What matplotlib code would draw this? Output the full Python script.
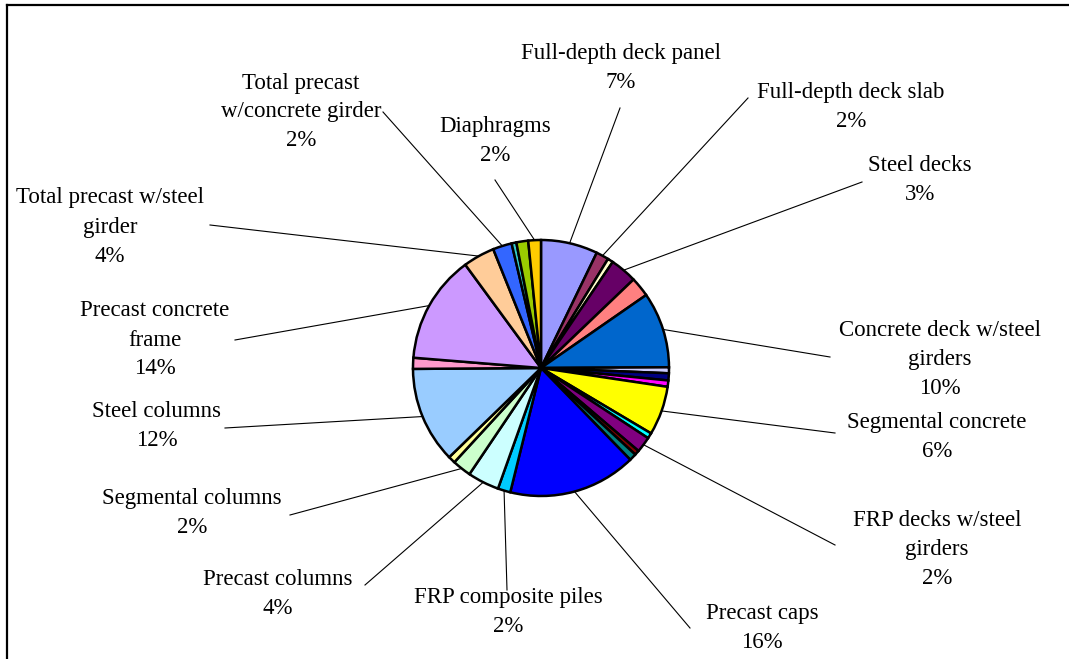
import matplotlib
matplotlib.use("Agg")
import matplotlib.pyplot as plt
import numpy as np

# ---- data ----
labels = [
    "Full-depth deck panel", "Full-depth deck slab", "", "Steel decks", "",
    "Concrete deck w/steel\ngirders", "", "", "", "Segmental concrete", "",
    "FRP decks w/steel\ngirders", "", "", "Precast caps", "FRP composite piles",
    "Precast columns", "Segmental columns", "", "Steel columns", "",
    "Precast concrete\nframe", "Total precast w/steel\ngirder",
    "Total precast\nw/concrete girder", "", "", "Diaphragms",
]
values = [
    7.2, 1.6, 0.7, 3.4, 2.5,
    9.6, 0.75, 0.9, 0.8, 6.2, 0.7,
    2.0, 0.6, 0.9, 16.2, 1.6,
    4.0, 2.4, 0.9, 12.2, 1.4,
    13.7, 4.0,
    2.4, 0.6, 1.5, 1.6,
]
colors = [
    "#9999FF", "#993366", "#FFFFCC", "#660066", "#FF8080",
    "#0066CC", "#CCCCFF", "#000080", "#FF00FF", "#FFFF00", "#00FFFF",
    "#800080", "#800000", "#008080", "#0000FF", "#00CCFF",
    "#CCFFFF", "#CCFFCC", "#FFFF99", "#99CCFF", "#FF99CC",
    "#CC99FF", "#FFCC99",
    "#3366FF", "#33CCCC", "#99CC00", "#FFCC00",
]

# ---- layout (image pixel coords, y from top) ----
W, H = 1069, 659
center_px = (541, 368)
radius_px = 128
# label block centre and leader start, per labelled slice
label_pos = {
    "Full-depth deck panel": ((621, 68), (620, 108)),
    "Full-depth deck slab": ((851, 107), (748, 98)),
    "Steel decks": ((920, 180), (862, 182)),
    "Concrete deck w/steel\ngirders": ((940, 359), (830, 357)),
    "Segmental concrete": ((937, 437), (835, 433)),
    "FRP decks w/steel\ngirders": ((937, 549), (835, 545)),
    "Precast caps": ((762, 628), (690, 628)),
    "FRP composite piles": ((508, 612), (507, 590)),
    "Precast columns": ((278, 594), (365, 585)),
    "Segmental columns": ((192, 513), (290, 515)),
    "Steel columns": ((157, 426), (225, 428)),
    "Precast concrete\nframe": ((155, 340), (235, 340)),
    "Total precast w/steel\ngirder": ((110, 227), (210, 225)),
    "Total precast\nw/concrete girder": ((301, 112), (383, 112)),
    "Diaphragms": ((495, 141), (495, 180)),
}

def Y(y):
    return H - y

fig = plt.figure(figsize=(W / 100, H / 100), dpi=100)
ax = fig.add_axes([0, 0, 1, 1])
ax.axis("off")

cx, cy = center_px[0], Y(center_px[1])
wedges, _ = ax.pie(values, colors=colors, startangle=90, counterclock=False,
                   center=(cx, cy), radius=radius_px,
                   wedgeprops=dict(edgecolor="black", linewidth=1.8))
ax.set_xlim(0, W)
ax.set_ylim(0, H)
ax.set_aspect("auto")

# frame (top and left edges visible)
ax.plot([7, W + 10], [Y(5), Y(5)], color="black", linewidth=1.6,
        solid_capstyle="projecting", clip_on=False)
ax.plot([7, 7], [Y(5), -10], color="black", linewidth=1.6,
        solid_capstyle="projecting", clip_on=False)

total = sum(values)
font = dict(family=["Liberation Serif", "DejaVu Serif"], fontsize=16.5)
for w, lab, v in zip(wedges, labels, values):
    if not lab:
        continue
    mid = np.deg2rad((w.theta1 + w.theta2) / 2)
    ex, ey = cx + radius_px * np.cos(mid), cy + radius_px * np.sin(mid)
    (tx, ty), (sx, sy) = label_pos[lab]
    ax.plot([sx, ex], [Y(sy), ey], color="black", linewidth=0.8, zorder=5)
    pct = f"{round(v / total * 100)}%"
    ax.text(tx, Y(ty), f"{lab}\n{pct}", ha="center", va="center",
            linespacing=1.5, **font)

fig.savefig("out.png", dpi=100)
